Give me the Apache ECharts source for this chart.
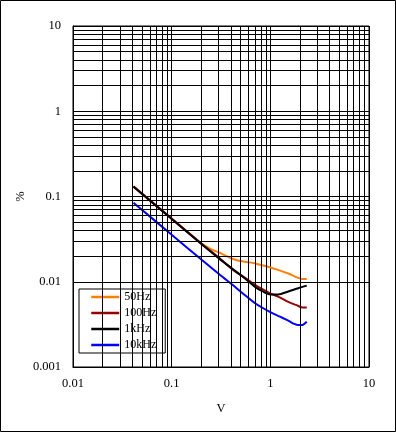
<!DOCTYPE html>
<html>
<head>
<meta charset="utf-8">
<script src="https://cdn.jsdelivr.net/npm/echarts@6/dist/echarts.min.js"></script>
<style>
html,body{margin:0;padding:0;background:#fff;}
#c{width:396px;height:432px;}
</style>
</head>
<body>
<div id="c"></div>
<script>
// ---- data ----
const seriesNames = ['50Hz', '100Hz', '1kHz', '10kHz'];

const volts50 = [0.041, 0.06, 0.1, 0.15, 0.2, 0.25, 0.31, 0.36, 0.44, 0.55, 0.7, 0.85, 1.0, 1.2, 1.52, 1.92, 2.1, 2.34];
const pct50   = [0.131, 0.0895, 0.0548, 0.037, 0.0282, 0.0242, 0.0218, 0.0200, 0.0181, 0.0172, 0.0164, 0.0155, 0.0147, 0.0138, 0.0125, 0.0111, 0.0108, 0.0108];

const volts100 = [0.041, 0.1, 0.2, 0.31, 0.44, 0.55, 0.7, 0.85, 1.0, 1.2, 1.52, 1.92, 2.1, 2.34];
const pct100   = [0.132, 0.0552, 0.0281, 0.0186, 0.0132, 0.0112, 0.0092, 0.0081, 0.0073, 0.0067, 0.0058, 0.0052, 0.0050, 0.0050];

const volts1k = [0.041, 0.1, 0.2, 0.31, 0.44, 0.55, 0.7, 0.82, 1.0, 1.2, 1.52, 1.92, 2.34];
const pct1k   = [0.130, 0.0544, 0.0277, 0.0183, 0.0134, 0.0110, 0.0087, 0.0078, 0.0071, 0.0071, 0.0077, 0.0084, 0.0090];

const volts10k = [0.041, 0.1, 0.2, 0.31, 0.44, 0.55, 0.7, 1.0, 1.25, 1.52, 1.75, 1.92, 2.08, 2.34];
const pct10k   = [0.0846, 0.0356, 0.0182, 0.0120, 0.0087, 0.0070, 0.0056, 0.0044, 0.0039, 0.0035, 0.0032, 0.0031, 0.0031, 0.0034];

const xDecades = [0.01, 0.1, 1];
const yDecades = [0.001, 0.01, 0.1, 1];
const minorSteps = [2, 3, 4, 5, 6, 7, 8, 9];

const colors = ['#FF8000', '#990000', '#000000', '#0000FF'];

// ---- build ----
function pairs(xs, ys) { return xs.map((x, i) => [x, ys[i]]); }
const minorX = [];
xDecades.forEach(d => minorSteps.forEach(s => minorX.push({ xAxis: +(d * s).toPrecision(3) })));
const minorY = [];
yDecades.forEach(d => minorSteps.forEach(s => minorY.push({ yAxis: +(d * s).toPrecision(3) })));

const font = "'Liberation Serif', 'Times New Roman', serif";
const chart = echarts.init(document.getElementById('c'), null, { renderer: 'canvas' });

const dataSets = [pairs(volts50, pct50), pairs(volts100, pct100), pairs(volts1k, pct1k), pairs(volts10k, pct10k)];

chart.setOption({
  animation: false,
  backgroundColor: '#fff',
  textStyle: { fontFamily: font, color: '#000' },
  graphic: [{
    type: 'rect', shape: { x: 0.5, y: 0.5, width: 395, height: 431 },
    style: { fill: null, stroke: '#000', lineWidth: 1 }, silent: true, z: 100
  }],
  grid: { left: 73, right: 27, top: 26, bottom: 65, show: true, borderColor: '#000', borderWidth: 1, backgroundColor: 'transparent' },
  legend: {
    orient: 'vertical', left: 79, top: 289,
    data: seriesNames,
    padding: [2, 9, 2, 11], itemGap: 4, itemWidth: 28, itemHeight: 13, itemTextGap: 2,
    backgroundColor: '#fff', borderColor: '#000', borderWidth: 1, borderRadius: 0,
    itemStyle: { opacity: 0, borderWidth: 0 },
    lineStyle: { width: 2.5 },
    textStyle: { fontFamily: font, fontSize: 12, color: '#000' }
  },
  xAxis: {
    type: 'log', logBase: 10, min: 0.01, max: 10,
    name: 'V', nameLocation: 'middle', nameGap: 35, nameMoveOverlap: false,
    nameTextStyle: { fontFamily: font, fontSize: 12.5, color: '#000' },
    axisLine: { show: true, lineStyle: { color: '#000', width: 1 } },
    axisTick: { show: false },
    axisLabel: { fontFamily: font, fontSize: 12.5, color: '#000', margin: 10,
      formatter: v => String(+v.toPrecision(3)) },
    splitLine: { show: true, lineStyle: { color: '#000', width: 1 } }
  },
  yAxis: {
    type: 'log', logBase: 10, min: 0.001, max: 10,
    name: '%', nameLocation: 'middle', nameGap: 46, nameMoveOverlap: false,
    nameTextStyle: { fontFamily: font, fontSize: 12.5, color: '#000' },
    axisLine: { show: true, lineStyle: { color: '#000', width: 1 } },
    axisTick: { show: false },
    axisLabel: { fontFamily: font, fontSize: 12.5, color: '#000', margin: 12,
      formatter: v => String(+v.toPrecision(3)) },
    splitLine: { show: true, lineStyle: { color: '#000', width: 1 } }
  },
  series: [
    {
      type: 'line', name: '__grid', data: [], silent: true, z: 1,
      markLine: {
        silent: true, symbol: ['none', 'none'], label: { show: false },
        lineStyle: { color: '#000', width: 1, type: 'solid' },
        emphasis: { disabled: true },
        data: minorX.concat(minorY)
      }
    }
  ].concat(seriesNames.map((n, i) => ({
    type: 'line', name: n, data: dataSets[i], smooth: 0.3, symbol: 'none', z: 3,
    color: colors[i],
    lineStyle: { color: colors[i], width: 2 }
  })))
});
</script>
</body>
</html>
